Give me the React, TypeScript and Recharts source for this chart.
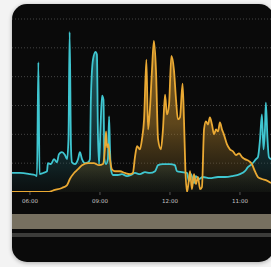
import React from "react";
import { ComposedChart, Area, Line, XAxis, YAxis, CartesianGrid } from "recharts";

const tealTimes = [5.23, 5.57, 6.0, 6.21, 6.3, 6.36, 6.41, 6.56, 6.73, 6.77, 6.9, 7.03, 7.16, 7.24, 7.37, 7.5, 7.59, 7.65, 7.7, 7.76, 7.8, 7.93, 8.06, 8.14, 8.23, 8.36, 8.49, 8.57, 8.61, 8.7, 8.81, 8.87, 8.91, 8.96, 9.02, 9.09, 9.15, 9.19, 9.26, 9.34, 9.39, 9.43, 9.47, 9.56, 9.77, 9.94, 10.16, 10.33, 10.5, 10.71, 10.93, 11.14, 11.36, 11.49, 11.7, 12.0, 12.21, 12.3, 12.51, 12.73, 12.81, 12.9, 13.03, 13.11, 13.24, 13.41, 13.71, 14.06, 14.36, 14.66, 15.0, 15.21, 15.34, 15.51, 15.69, 15.77, 15.86, 15.94, 16.01, 16.07, 16.11, 16.18, 16.24, 16.33];
const tealValues = [0.66, 0.66, 0.62, 0.59, 0.55, 4.5, 0.62, 0.66, 0.72, 1.0, 0.97, 1.14, 1.03, 1.31, 1.38, 1.28, 1.14, 1.83, 5.55, 1.48, 1.03, 0.97, 1.14, 1.38, 1.14, 1.0, 1.03, 1.14, 3.2, 4.59, 4.86, 4.76, 2.17, 0.97, 2.17, 3.34, 3.2, 1.14, 0.97, 1.14, 2.62, 1.48, 0.79, 0.59, 0.59, 0.62, 0.55, 0.59, 0.66, 0.62, 0.69, 0.66, 0.72, 0.93, 0.97, 0.97, 0.93, 0.72, 0.69, 0.66, 0.38, 0.62, 0.31, 0.55, 0.45, 0.52, 0.48, 0.52, 0.52, 0.55, 0.62, 0.72, 0.86, 0.97, 1.14, 1.21, 1.83, 2.69, 1.48, 2.17, 3.1, 1.83, 1.21, 1.14];

const orangeTimes = [5.23, 6.73, 7.07, 7.37, 7.59, 7.71, 7.89, 8.06, 8.23, 8.49, 8.74, 8.96, 9.13, 9.21, 9.26, 9.3, 9.36, 9.43, 9.51, 9.64, 9.86, 10.07, 10.29, 10.41, 10.5, 10.59, 10.71, 10.8, 10.89, 10.99, 11.06, 11.14, 11.23, 11.31, 11.4, 11.49, 11.61, 11.7, 11.79, 11.87, 11.96, 12.06, 12.17, 12.26, 12.34, 12.43, 12.54, 12.6, 12.66, 12.73, 12.79, 12.86, 12.94, 13.03, 13.11, 13.2, 13.29, 13.37, 13.46, 13.54, 13.63, 13.71, 13.8, 13.89, 13.97, 14.06, 14.14, 14.23, 14.31, 14.44, 14.57, 14.7, 14.83, 14.96, 15.09, 15.21, 15.39, 15.51, 15.64, 15.77, 15.94, 16.11, 16.33];
const orangeValues = [0, 0, 0.07, 0.14, 0.24, 0.45, 0.66, 0.79, 0.93, 1.0, 1.0, 0.93, 0.97, 1.48, 2.1, 1.55, 1.66, 1.14, 0.79, 0.72, 0.72, 0.66, 0.62, 0.66, 1.21, 1.59, 1.48, 1.83, 2.52, 4.59, 2.17, 2.86, 4.24, 5.24, 4.24, 1.83, 1.48, 2.17, 3.38, 2.69, 3.03, 4.72, 4.24, 3.2, 2.52, 2.59, 3.76, 2.52, 0.79, 0, 0.28, 0.72, 0.1, 0.62, 0.28, 0.52, 0.1, 0.17, 2.17, 2.45, 2.34, 2.59, 2.34, 2.0, 2.17, 2.1, 2.41, 2.17, 2.0, 1.66, 1.48, 1.41, 1.28, 1.34, 1.21, 1.14, 1.07, 0.97, 0.72, 0.52, 0.45, 0.41, 0.31];

const tickHours = [6, 9, 12, 15];
const tickLabels = ["06:00", "09:00", "12:00", "11:00"];
const gridValues = [1, 2, 3, 4, 5, 6];

function buildRows() {
  const map = new Map<number, { t: number; teal: number | null; orange: number | null }>();
  tealTimes.forEach((t, i) => {
    const r = map.get(t) || { t, teal: null, orange: null };
    r.teal = tealValues[i];
    map.set(t, r);
  });
  orangeTimes.forEach((t, i) => {
    const r = map.get(t) || { t, teal: null, orange: null };
    r.orange = orangeValues[i];
    map.set(t, r);
  });
  return Array.from(map.values()).sort((a, b) => a.t - b.t);
}

const rows = buildRows();
const TEAL = "#3fc6d0";
const ORANGE = "#eaa933";

export default function App() {
  return (
    <div style={{ position: "absolute", left: 0, top: 0, width: 271, height: 267, overflow: "hidden", background: "#f3f3f3" }}>
      <div
        style={{
          position: "absolute",
          left: 12,
          top: 4,
          width: 262,
          height: 258,
          borderRadius: 15,
          background: "#0a0a0a",
          overflow: "hidden",
          boxShadow: "0 1px 4px rgba(0,0,0,0.3)",
        }}
      >
        <ComposedChart width={259} height={208} data={rows} margin={{ top: 15, right: 0, bottom: 0, left: 0 }}>
          <defs>
            <linearGradient id="tealFill" x1="0" y1="0" x2="0" y2="1">
              <stop offset="0%" stopColor="#3cc0ca" stopOpacity={0.9} />
              <stop offset="60%" stopColor="#2a8088" stopOpacity={0.6} />
              <stop offset="85%" stopColor="#1c4e54" stopOpacity={0.55} />
              <stop offset="100%" stopColor="#0f2a2d" stopOpacity={0.3} />
            </linearGradient>
            <linearGradient id="orangeFill" x1="0" y1="0" x2="0" y2="1">
              <stop offset="0%" stopColor="#e8aa38" stopOpacity={0.95} />
              <stop offset="55%" stopColor="#b8862e" stopOpacity={0.8} />
              <stop offset="85%" stopColor="#6a5222" stopOpacity={0.55} />
              <stop offset="100%" stopColor="#2e2612" stopOpacity={0.3} />
            </linearGradient>
          </defs>
          <CartesianGrid horizontal vertical={false} stroke="#454545" strokeDasharray="1 2" horizontalValues={gridValues} />
          <XAxis
            dataKey="t"
            type="number"
            domain={[5.23, 16.33]}
            allowDataOverflow
            ticks={tickHours}
            tickFormatter={(v: number) => tickLabels[tickHours.indexOf(v)] ?? ""}
            axisLine={false}
            tickLine={{ stroke: "#555" }}
            tickSize={3}
            tickMargin={4}
            height={20}
            tick={{ fontSize: 5.5, fill: "#c8c8c8", fontFamily: "DejaVu Sans" }}
          />
          <YAxis hide domain={[0, 6]} allowDataOverflow />
          <Area type="monotone" dataKey="teal" stroke="none" fill="url(#tealFill)" connectNulls isAnimationActive={false} />
          <Area type="monotone" dataKey="orange" stroke="none" fill="url(#orangeFill)" connectNulls isAnimationActive={false} />
          <Line type="monotone" dataKey="teal" stroke={TEAL} strokeWidth={1.8} dot={false} connectNulls isAnimationActive={false} />
          <Line type="monotone" dataKey="orange" stroke={ORANGE} strokeWidth={1.8} dot={false} connectNulls isAnimationActive={false} />
        </ComposedChart>
        <div style={{ position: "absolute", left: 0, top: 210, width: 262, height: 15, background: "#777060" }} />
        <div style={{ position: "absolute", left: 0, top: 229, width: 262, height: 4, background: "#3c3c3a" }} />
      </div>
    </div>
  );
}
